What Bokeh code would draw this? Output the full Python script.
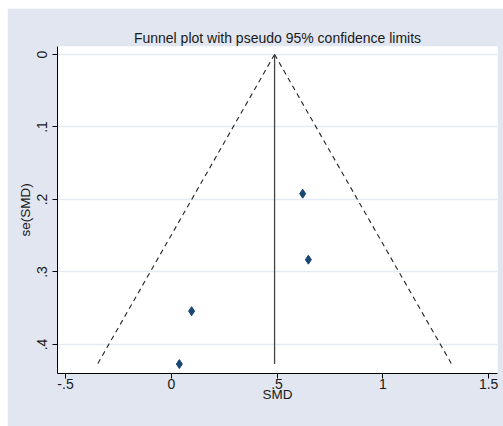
from bokeh.plotting import figure
from bokeh.models import Range1d, FixedTicker
from bokeh.embed import file_html
from bokeh.resources import INLINE

# Study effects (standardised mean difference) and their standard errors
smd = [0.621, 0.648, 0.096, 0.038]
se_smd = [0.192, 0.283, 0.354, 0.427]

x_ticks = [-0.5, 0, 0.5, 1, 1.5]
x_tick_labels = ["-.5", "0", ".5", "1", "1.5"]
y_ticks = [0, 0.1, 0.2, 0.3, 0.4]
y_tick_labels = ["0", ".1", ".2", ".3", ".4"]

# Fixed-effect (inverse-variance) pooled estimate and pseudo 95% limits
weights = [1.0 / s ** 2 for s in se_smd]
pooled = sum(w * e for w, e in zip(weights, smd)) / sum(weights)
se_max = max(se_smd)
lower_x = [pooled, pooled - 1.96 * se_max]
upper_x = [pooled, pooled + 1.96 * se_max]
limit_y = [0, se_max]

FONT = "Liberation Sans"
PANEL = "#E1E6F0"
TEXT = "#1a1a1a"

p = figure(
    width=496, height=418,
    margin=(8, 0, 0, 7),
    x_range=Range1d(-0.538, 1.542),
    y_range=Range1d(0.44, -0.011),
    output_backend="svg",
    toolbar_location=None,
    title="Funnel plot with pseudo 95% confidence limits",
    min_border_left=50, min_border_right=6,
    min_border_top=38, min_border_bottom=53,
)
p.border_fill_color = PANEL
p.background_fill_color = "white"
p.outline_line_color = None

p.title.align = "center"
p.title.text_font = FONT
p.title.text_font_size = "14px"
p.title.text_font_style = "normal"
p.title.text_color = TEXT
p.title.standoff = 2

# Axes
for ax in (p.xaxis, p.yaxis):
    ax.axis_line_color = "black"
    ax.axis_line_width = 1
    ax.major_tick_line_color = "black"
    ax.major_tick_out = 5
    ax.major_tick_in = 0
    ax.minor_tick_line_color = None
    ax.major_label_text_font = FONT
    ax.major_label_text_font_size = "14px"
    ax.major_label_text_color = TEXT
    ax.axis_label_text_font = FONT
    ax.axis_label_text_font_size = "13.5px"
    ax.axis_label_text_font_style = "normal"
    ax.axis_label_text_color = TEXT

p.xaxis.ticker = FixedTicker(ticks=x_ticks)
p.xaxis.major_label_overrides = dict(zip(x_ticks, x_tick_labels))
p.xaxis.axis_label = "SMD"
p.xaxis.major_label_standoff = 0
p.xaxis.axis_label_standoff = -5

p.yaxis.ticker = FixedTicker(ticks=y_ticks)
p.yaxis.major_label_overrides = dict(zip(y_ticks, y_tick_labels))
p.yaxis.major_label_orientation = "vertical"
p.yaxis.axis_label = "se(SMD)"
p.yaxis.major_label_standoff = 5
p.yaxis.axis_label_standoff = 2

p.xgrid.grid_line_color = None
p.ygrid.grid_line_color = "#E4EAF1"
p.ygrid.grid_line_width = 1.5

# Pseudo confidence limits and pooled effect line
p.line(lower_x, limit_y, line_color="#222222", line_width=1.1, line_dash="5 4")
p.line(upper_x, limit_y, line_color="#222222", line_width=1.1, line_dash="5 4")
p.line([pooled, pooled], limit_y, line_color="#444444", line_width=1.3)

# Studies
p.scatter(smd, se_smd, marker="diamond", size=9,
          fill_color="#1A476F", line_color="#1A476F")

open("out.html", "w").write(file_html(p, INLINE))
